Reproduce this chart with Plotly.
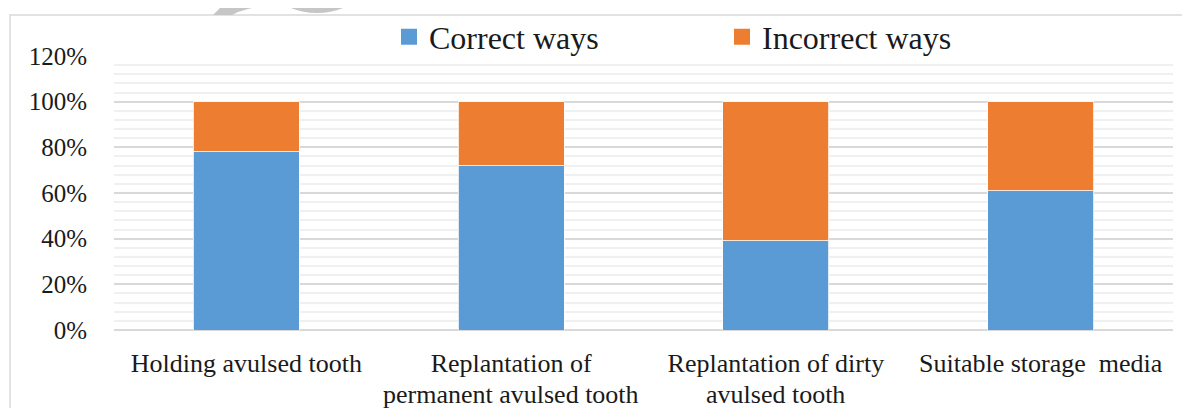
import plotly.graph_objects as go

categories = ["Holding avulsed tooth",
              "Replantation of permanent avulsed tooth",
              "Replantation of dirty avulsed tooth",
              "Suitable storage  media"]
label_line1 = ["Holding avulsed tooth", "Replantation of",
               "Replantation of dirty", "Suitable storage\u00a0 media"]
label_line2 = ["", "permanent avulsed tooth", "avulsed tooth", ""]
correct = [0.78, 0.72, 0.39, 0.61]
incorrect = [0.22, 0.28, 0.61, 0.39]
series_names = ["Correct ways", "Incorrect ways"]
colors = ["#5B9BD5", "#ED7D31"]

OFF = 8  # page body margin
W, H = 1190 - 2 * OFF, 408 - OFF
SL, SR, ST, SB = 114, 1173, 56, 330
L, T = SL - OFF, ST - OFF
R = W - (SR - OFF)
B = H - (SB - OFF)
pw, ph = W - L - R, H - T - B

def sx(x):
    return (x - OFF - L) / pw

def sy(y):
    return (H - B - (y - OFF)) / ph

SERIF = "Times New Roman, Liberation Serif, Tinos, DejaVu Serif, serif"
TXT = "#1a1a1a"

fig = go.Figure()
for name, vals, col in zip(series_names, [correct, incorrect], colors):
    fig.add_trace(go.Bar(x=categories, y=vals, name=name, showlegend=False,
                         marker=dict(color=col, line=dict(color="white", width=0.8))))
# legend entries with larger square symbols
for name, col in zip(series_names, colors):
    fig.add_trace(go.Scatter(x=[None], y=[None], mode="markers", name=name,
                             marker=dict(symbol="square", size=16, color=col)))

for cat, l2 in zip(categories, label_line2):
    if l2:
        fig.add_annotation(x=cat, xref="x", y=sy(394), yref="paper", yanchor="middle",
                           text=l2, showarrow=False, font=dict(family=SERIF, size=26, color=TXT))

# chart frame
fig.add_shape(type="rect", xref="paper", yref="paper",
              x0=sx(10), x1=sx(1200), y0=sy(430), y1=sy(15),
              line=dict(color="#d9d9d9", width=1.5), fillcolor="rgba(0,0,0,0)", layer="below")

# faint watermark fragments at the top edge
def path_px(pts):
    return "M" + " L".join(f"{sx(x):.5f},{sy(y):.5f}" for x, y in pts) + " Z"

wm = "#c6c6c6"
fig.add_shape(type="path", xref="paper", yref="paper", layer="above",
              path=path_px([(213, 15), (220, 8), (230, 2), (242, -2), (258, -2),
                            (260, 3), (256, 7), (248, 9), (238, 12), (232, 15)]),
              fillcolor=wm, line=dict(width=0))
fig.add_shape(type="circle", xref="paper", yref="paper", layer="above",
              x0=sx(317 - 63), x1=sx(317 + 63), y0=sy(-55 + 63), y1=sy(-55 - 63),
              line=dict(color=wm, width=10), fillcolor="rgba(0,0,0,0)")

fig.update_layout(
    width=W, height=H,
    margin=dict(l=L, r=R, t=T, b=B, pad=0, autoexpand=False),
    barmode="stack", bargap=0.6,
    paper_bgcolor="white", plot_bgcolor="white",
    font=dict(family=SERIF, color=TXT, size=26),
    legend=dict(orientation="h", x=sx(389), xanchor="left",
                y=sy(37), yanchor="middle",
                font=dict(family=SERIF, size=32, color=TXT), entrywidth=288, entrywidthmode="pixels",
                traceorder="normal", bgcolor="rgba(0,0,0,0)"),
    yaxis=dict(range=[0, 1.2], dtick=0.2, tickformat=".0%",
               showgrid=True, gridcolor="#d9d9d9", gridwidth=1.5,
               zeroline=True, zerolinecolor="#d9d9d9", zerolinewidth=1.5,
               minor=dict(dtick=0.04, showgrid=True, gridcolor="#f0f0f0", gridwidth=1.5),
               ticklabelstandoff=26, tickfont=dict(family=SERIF, size=25, color=TXT)),
    xaxis=dict(showline=False, tickmode="array", tickvals=categories, ticktext=label_line1,
               tickfont=dict(family=SERIF, size=26, color=TXT), ticklabelstandoff=15),
)

fig.write_html("out.html")
